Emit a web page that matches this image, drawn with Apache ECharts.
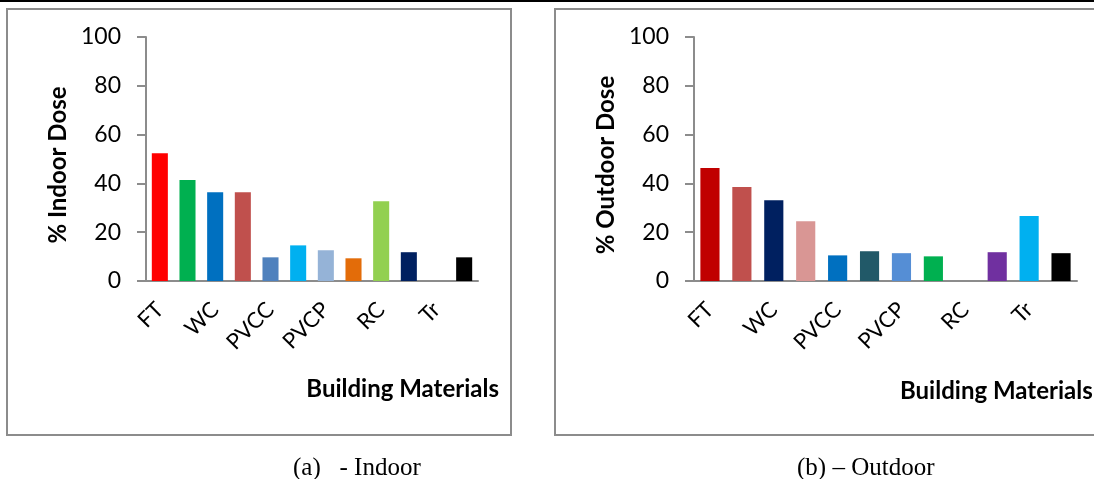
<!DOCTYPE html>
<html>
<head>
<meta charset="utf-8">
<script src="https://cdn.jsdelivr.net/npm/echarts@6/dist/echarts.min.js"></script>
<style>
  html, body { margin: 0; padding: 0; background: #fff; }
  #main { width: 1094px; height: 479px; }
</style>
</head>
<body>
<div id="main"></div>
<script>
// categories (only every other one is labelled in the source)
var materials = ['FT', '', 'WC', '', 'PVCC', '', 'PVCP', '', 'RC', '', 'Tr', ''];
var indoorDose = [52.4, 41.4, 36.4, 36.4, 9.7, 14.6, 12.6, 9.3, 32.7, 11.8, 0, 9.7];
var outdoorDose = [46.3, 38.5, 33.1, 24.5, 10.5, 12.2, 11.4, 10.1, 0, 11.8, 26.6, 11.4];
var yTicks = [0, 20, 40, 60, 80, 100];

var indoorColors = ['#FF0000', '#00B050', '#0070C0', '#C0504D', '#4F81BD', '#00B0F0',
  '#95B3D7', '#E36C09', '#92D050', '#002060', '#000000', '#000000'];
var outdoorColors = ['#C00000', '#C0504D', '#002060', '#D99694', '#0070C0', '#215968',
  '#558ED5', '#00B050', '#000000', '#7030A0', '#00B0F0', '#000000'];

var axisGray = '#8c8c8c';
var font = 'Lato, "Open Sans", sans-serif';

function xAxisOf(grid) {
  return {
    type: 'category',
    gridIndex: grid,
    data: materials,
    axisLine: { lineStyle: { color: axisGray, width: 2 } },
    axisTick: { show: false },
    axisLabel: {
      interval: 1,
      rotate: 45,
      margin: 25,
      color: '#000',
      fontFamily: font,
      fontSize: 22
    }
  };
}

function yAxisOf(grid, title, gap) {
  return {
    type: 'value',
    gridIndex: grid,
    min: yTicks[0],
    max: yTicks[yTicks.length - 1],
    interval: 20,
    name: title,
    nameLocation: 'middle',
    nameGap: gap,
    nameTextStyle: { color: '#000', fontFamily: font, fontSize: 24, fontWeight: 'bold', padding: [0, 12, 0, 0] },
    axisLine: { show: true, lineStyle: { color: axisGray, width: 2 } },
    axisTick: { show: true, inside: false, length: 9, lineStyle: { color: axisGray, width: 2 } },
    splitLine: { show: false },
    axisLabel: { margin: 25, color: '#000', fontFamily: font, fontSize: 23 }
  };
}

function coloured(values, colors) {
  return values.map(function (v, i) {
    return { value: v, itemStyle: { color: colors[i] } };
  });
}

var option = {
  animation: false,
  backgroundColor: '#fff',
  grid: [
    { left: 146, top: 37, width: 332, height: 244 },
    { left: 694, top: 37, width: 383, height: 244 }
  ],
  xAxis: [xAxisOf(0), xAxisOf(1)],
  yAxis: [yAxisOf(0, '% Indoor Dose', 76), yAxisOf(1, '% Outdoor Dose', 76)],
  series: [
    { type: 'bar', xAxisIndex: 0, yAxisIndex: 0, barCategoryGap: '42%', data: coloured(indoorDose, indoorColors) },
    { type: 'bar', xAxisIndex: 1, yAxisIndex: 1, barCategoryGap: '40%', data: coloured(outdoorDose, outdoorColors) }
  ],
  graphic: [
    { type: 'line', shape: { x1: 0, y1: 1, x2: 1094, y2: 1 }, style: { stroke: '#000', lineWidth: 2 } },
    { type: 'rect', shape: { x: 7, y: 9, width: 504, height: 426 }, style: { fill: null, stroke: axisGray, lineWidth: 2 }, z: -1 },
    { type: 'rect', shape: { x: 555, y: 9, width: 560, height: 426 }, style: { fill: null, stroke: axisGray, lineWidth: 2 }, z: -1 },
    { type: 'text', x: 499, y: 389, style: { text: 'Building Materials', align: 'right', verticalAlign: 'middle', fill: '#000', font: 'bold 24px ' + font } },
    { type: 'text', x: 900, y: 391, style: { text: 'Building Materials', align: 'left', verticalAlign: 'middle', fill: '#000', font: 'bold 24px ' + font } },
    { type: 'text', x: 293, y: 468, style: { text: '(a)   - Indoor', align: 'left', verticalAlign: 'middle', fill: '#000', font: '25px "Liberation Serif", serif' } },
    { type: 'text', x: 797, y: 468, style: { text: '(b) \u2013 Outdoor', align: 'left', verticalAlign: 'middle', fill: '#000', font: '25px "Liberation Serif", serif' } }
  ]
};

var myChart = echarts.init(document.getElementById('main'));
myChart.setOption(option);
</script>
</body>
</html>
